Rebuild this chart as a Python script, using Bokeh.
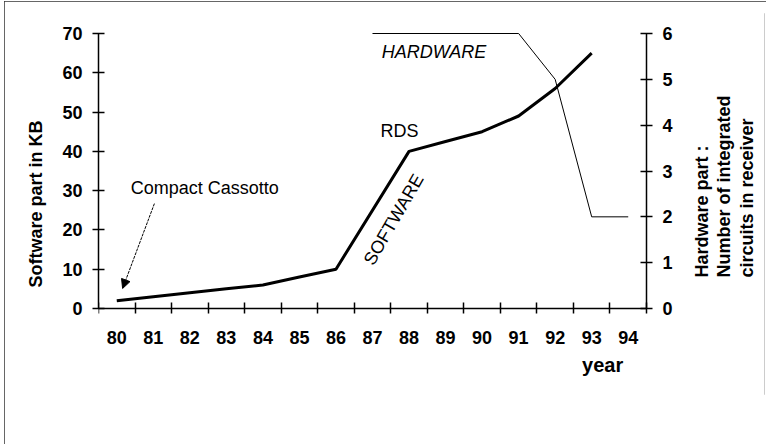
from bokeh.plotting import figure
from bokeh.models import Range1d, LinearAxis, FixedTicker, Label, Arrow, NormalHead
from bokeh.embed import file_html
from bokeh.resources import INLINE
import math

# ---- data ----
years_sw = [80, 81, 82, 83, 84, 85, 86, 88, 89, 90, 91, 92, 93]
software_kb = [2, 3, 4, 5, 6, 8, 10, 40, 42.5, 45, 49, 56, 65]
years_hw = [87, 91, 92, 93, 94]
hardware_ics = [6, 6, 5, 2, 2]
year_ticks = list(range(80, 95))
kb_ticks = [0, 10, 20, 30, 40, 50, 60, 70]
ic_ticks = [0, 1, 2, 3, 4, 5, 6]
hw_title_lines = ["Hardware part :", "Number of integrated", "circuits in receiver"]
arrow_from = (81.03, 26.7)
arrow_to = (80.16, 5.1)

FONT = "Liberation Sans"
X0, X1 = year_ticks[0] - 0.5, year_ticks[-1] + 0.5

# frame geometry (inner pixels): frame spans 12..393 vertically; value 0 at 307, 70 at 32
TOP, BOTTOM, H = 12, 50, 443
KB_PX = 275 / 70.0
HW_PX = 275 / 6.0
y_end = (307 - TOP) / KB_PX
y_start = -((H - BOTTOM) - 307) / KB_PX
hw_end = (307 - TOP) / HW_PX
hw_start = -((H - BOTTOM) - 307) / HW_PX

p = figure(width=762, height=H, x_range=Range1d(X0, 97.73), y_range=Range1d(y_start, y_end),
           output_backend="svg", toolbar_location=None, x_axis_type=None, y_axis_type=None,
           min_border_left=94, min_border_right=2, min_border_top=TOP, min_border_bottom=BOTTOM)
p.outline_line_color = None
p.background_fill_color = "white"
p.border_fill_color = "white"
p.styles = {"outline": "2px solid #333", "outline-offset": "-2px", "margin-left": "4px", "margin-top": "1px"}

p.extra_y_ranges = {"hw": Range1d(hw_start, hw_end)}

# bottom axis at y = 0: labels at year centres, ticks between years
xaxis = LinearAxis(ticker=FixedTicker(ticks=year_ticks, minor_ticks=[y - 0.5 for y in year_ticks] + [X1]),
                   bounds=(X0, X1), fixed_location=0)
xaxis.major_tick_in = 0
xaxis.major_tick_out = 0
xaxis.minor_tick_in = 6
xaxis.minor_tick_out = 5
xaxis.minor_tick_line_color = "black"
xaxis.minor_tick_line_width = 1.5
xaxis.axis_line_width = 1.5
xaxis.major_label_text_font = FONT
xaxis.major_label_text_font_style = "bold"
xaxis.major_label_text_font_size = "18px"
xaxis.major_label_text_color = "black"
xaxis.major_label_standoff = 17
p.add_layout(xaxis, "below")

yleft = LinearAxis(ticker=FixedTicker(ticks=kb_ticks), bounds=(0, 70))
yleft.major_tick_in = 6
yleft.major_tick_out = 6
yleft.minor_tick_line_color = None
yleft.axis_line_width = 1.5
yleft.major_tick_line_width = 1.5
yleft.major_label_text_font = FONT
yleft.major_label_text_font_style = "bold"
yleft.major_label_text_font_size = "18px"
yleft.major_label_text_color = "black"
yleft.major_label_standoff = 10
yleft.axis_label = "Software part in KB"
yleft.axis_label_text_font = FONT
yleft.axis_label_text_font_style = "bold"
yleft.axis_label_text_font_size = "18px"
yleft.axis_label_text_color = "black"
yleft.axis_label_standoff = 13
p.add_layout(yleft, "left")

yright = LinearAxis(y_range_name="hw", ticker=FixedTicker(ticks=ic_ticks), bounds=(0, 6), fixed_location=X1)
yright.major_tick_in = 6
yright.major_tick_out = 6
yright.minor_tick_line_color = None
yright.axis_line_width = 1.5
yright.major_tick_line_width = 1.5
yright.major_label_text_font = FONT
yright.major_label_text_font_style = "bold"
yright.major_label_text_font_size = "18px"
yright.major_label_text_color = "black"
yright.major_label_standoff = 10
p.add_layout(yright, "right")

# data lines
p.line(years_sw, software_kb, line_width=3, line_color="black")
p.line(years_hw, hardware_ics, y_range_name="hw", line_width=1, line_color="black")

# arrow for Compact Cassette
p.add_layout(Arrow(end=NormalHead(size=9, fill_color="black", line_color="black", line_width=1),
                   x_start=arrow_from[0], y_start=arrow_from[1], x_end=arrow_to[0], y_end=arrow_to[1],
                   line_width=1, line_color="black", line_dash="3 1"))

def lab(x, y, text, **kw):
    opts = dict(text_font=FONT, text_font_size="18px", text_color="black")
    opts.update(kw)
    p.add_layout(Label(x=x, y=y, text=text, **opts))

lab(80.38, 30.8, "Compact Cassotto", text_align="left", text_baseline="alphabetic")
lab(87.74, 45.3, "RDS", text_align="center", text_baseline="alphabetic")
lab(87.25, 65.2, "HARDWARE", text_align="left", text_baseline="alphabetic", text_font_style="italic")
lab(87.58, 22.65, "SOFTWARE", text_align="center", text_baseline="middle", angle=math.radians(60))
lab(93.3, -14.5, "year", text_align="center", text_baseline="middle", text_font_style="bold", text_font_size="20px")

for xpos, line in zip([96.03, 96.63, 97.26], hw_title_lines):
    lab(xpos, 7.9, line, text_align="left", text_baseline="middle", angle=math.pi / 2, text_font_style="bold")

open("out.html", "w").write(file_html(p, INLINE))
